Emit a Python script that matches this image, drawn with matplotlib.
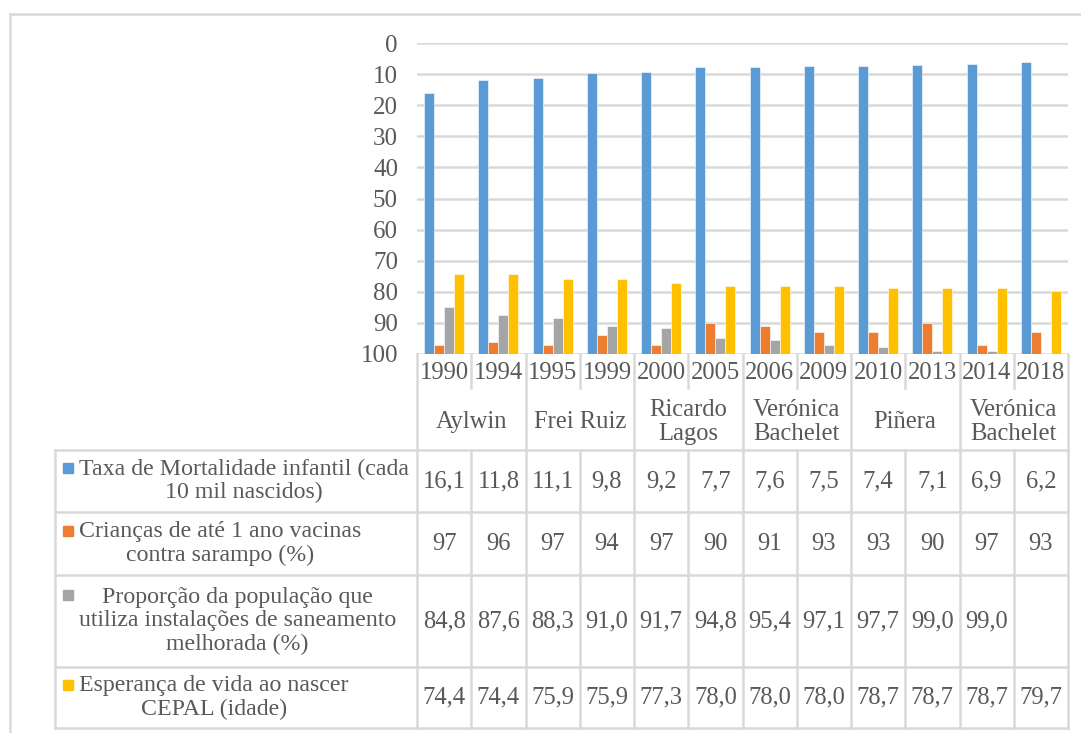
import numpy as np
import matplotlib.pyplot as plt
from matplotlib.transforms import blended_transform_factory

plt.rcParams['font.family'] = ['Liberation Serif', 'DejaVu Serif']

years = ['1990', '1994', '1995', '1999', '2000', '2005',
         '2006', '2009', '2010', '2013', '2014', '2018']
presidents = ['Aylwin', 'Frei Ruiz', 'Ricardo\nLagos', 'Verónica\nBachelet',
              'Piñera', 'Verónica\nBachelet']
mortalidade = [16.1, 11.8, 11.1, 9.8, 9.2, 7.7, 7.6, 7.5, 7.4, 7.1, 6.9, 6.2]
vacinas = [97, 96, 97, 94, 97, 90, 91, 93, 93, 90, 97, 93]
saneamento = [84.8, 87.6, 88.3, 91.0, 91.7, 94.8, 95.4, 97.1, 97.7, 99.0, 99.0, np.nan]
esperanca = [74.4, 74.4, 75.9, 75.9, 77.3, 78.0, 78.0, 78.0, 78.7, 78.7, 78.7, 79.7]
series_names = ['Taxa de Mortalidade infantil (cada\n10 mil nascidos)',
                'Crianças de até 1 ano vacinas\ncontra sarampo (%)',
                'Proporção da população que\nutiliza instalações de saneamento\nmelhorada (%)',
                'Esperança de vida ao nascer\nCEPAL (idade)']
series = [mortalidade, vacinas, saneamento, esperanca]
fmts = ['{:.1f}', '{:.0f}', '{:.1f}', '{:.1f}']
colors = ['#5B9BD5', '#ED7D31', '#A5A5A5', '#FFC000']
yticks = np.arange(0, 101, 10)

W, H = 1081, 733
txt = '#595959'
grid = '#D9D9D9'
fig = plt.figure(figsize=(W / 100, H / 100), dpi=100)

# overlay in pixel coords for the table / frame
ov = fig.add_axes([0, 0, 1, 1])
ov.set_xlim(0, W)
ov.set_ylim(H, 0)
ov.axis('off')

x0, x1, ytop, ybot = 417, 1068, 43, 354
ax = fig.add_axes([x0 / W, (H - ybot) / H, (x1 - x0) / W, (ybot - ytop) / H])
ax.patch.set_alpha(0)

x = np.arange(len(years))
bw = 0.185
for k, (vals, c) in enumerate(zip(series, colors)):
    v = np.array(vals, dtype=float)
    m = ~np.isnan(v)
    ax.bar(x[m] + (k - 1.5) * bw, v[m] - 100, bottom=100, width=bw,
           color=c, edgecolor='white', linewidth=0.4, zorder=3)

ax.set_xlim(-0.5, len(years) - 0.5)
ax.set_ylim(100, 0)
ax.set_yticks(yticks)
ax.set_yticklabels([])
ax.set_xticks([])
ax.tick_params(axis='y', length=0)
ax.grid(axis='y', color=grid, linewidth=1.8, zorder=0)
for s in ax.spines.values():
    s.set_visible(False)

# y tick labels (serif, right aligned left of plot)
tr_y = blended_transform_factory(ov.transData, ax.transData)
for t in yticks:
    ov.text(398, t, str(t), ha='right', va='center_baseline', fontsize=18,
            color=txt, transform=tr_y)

tr = blended_transform_factory(ax.transData, ov.transData)
lw = 1.8

# outer frame
ov.plot([10, W], [14, 14], color=grid, lw=lw)
ov.plot([10, 10], [14, H], color=grid, lw=lw)

# category axis: years and presidents
edges = np.arange(len(years) + 1) - 0.5
for i, e in enumerate(edges):
    if i % 2 == 0:
        ov.plot([e, e], [354, 450], color=grid, lw=lw, transform=tr)
    else:
        ov.plot([e, e], [354, 388], color=grid, lw=lw, transform=tr)
for i, yr in enumerate(years):
    ov.text(i, 373, yr, ha='center', va='center', fontsize=17.7, color=txt, transform=tr)
for g, name in enumerate(presidents):
    ov.text(2 * g + 0.5, 422, name, ha='center', va='center', fontsize=17.7,
            color=txt, linespacing=1.12, transform=tr)

# data table
rows = [450, 512, 575, 667, 728]
for r in rows:
    ov.plot([55, x1], [r, r], color=grid, lw=lw)
ov.plot([55, 55], [450, 728], color=grid, lw=lw)
for e in edges:
    ov.plot([e, e], [450, 728], color=grid, lw=lw, transform=tr)

for k in range(4):
    ya, yb = rows[k], rows[k + 1]
    yc = (ya + yb) / 2
    nlines = series_names[k].count('\n') + 1
    ov.text(79, yc, series_names[k], ha='left', va='center', fontsize=17.2,
            color=txt, linespacing=1.16, multialignment='center')
    first = yc - (nlines - 1) * 13
    ov.add_patch(plt.Rectangle((63, first - 5), 10, 10, color=colors[k]))
    for i, v in enumerate(series[k]):
        if np.isnan(v):
            continue
        s = fmts[k].format(v).replace('.', ',')
        ov.text(i, yc, s, ha='center', va='center', fontsize=17.7,
                color=txt, transform=tr)

fig.savefig('out.png', dpi=100)
